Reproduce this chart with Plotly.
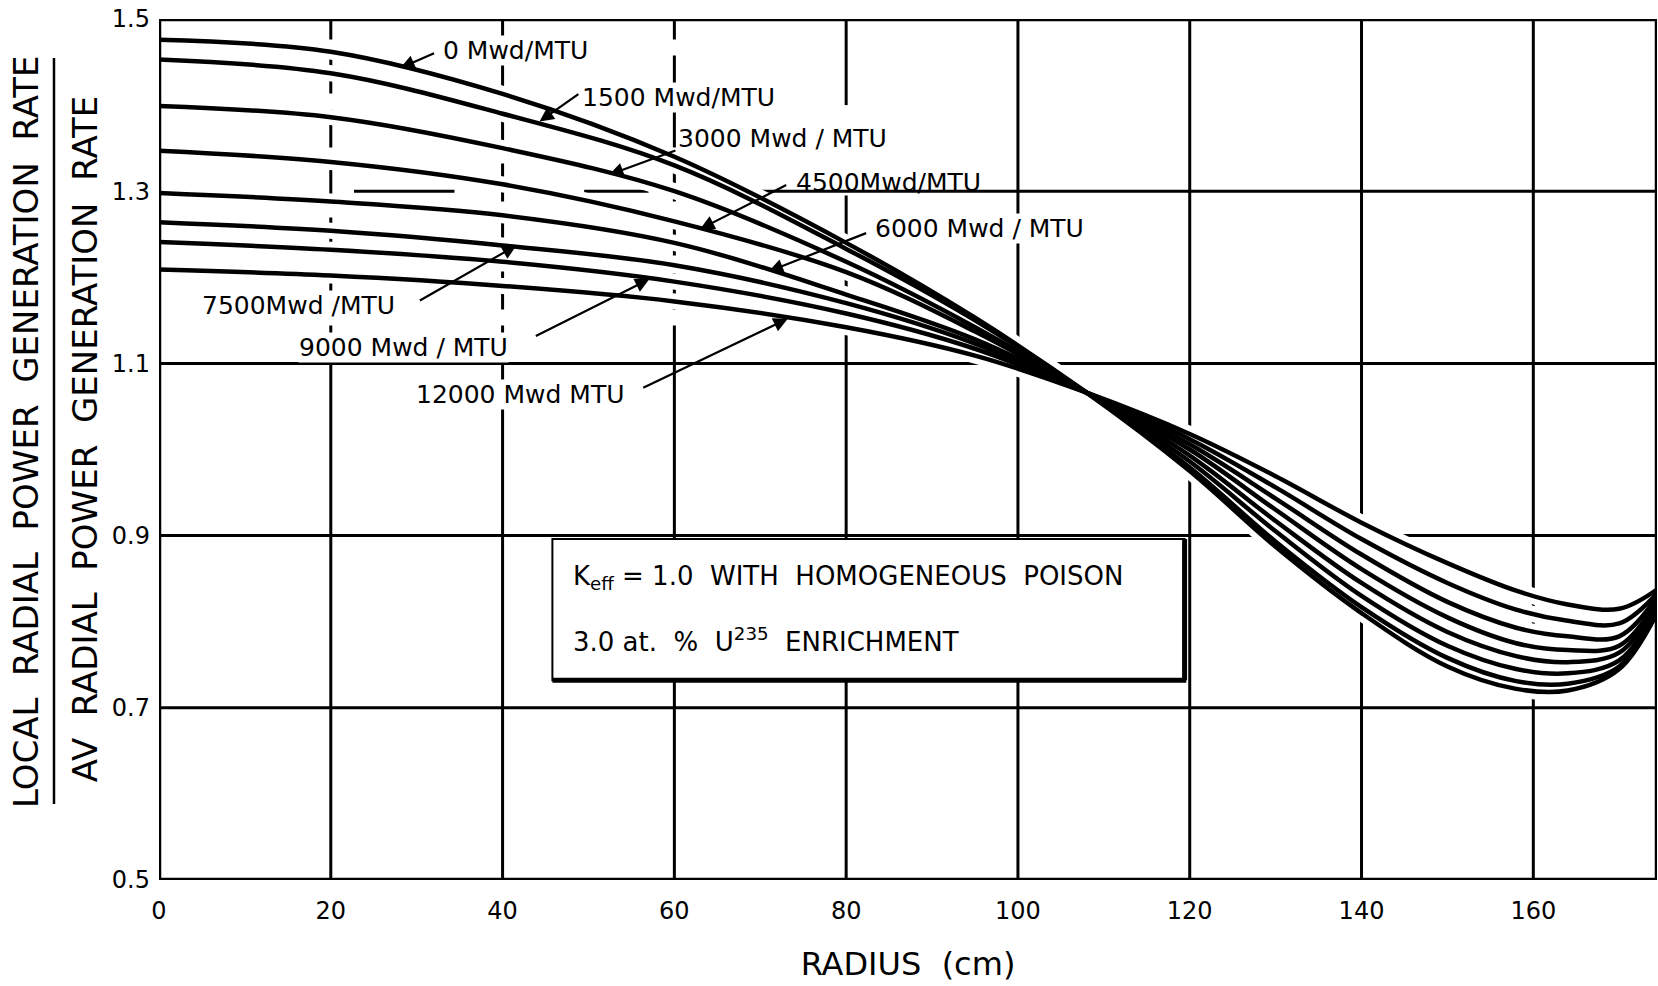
import plotly.graph_objects as go

# ---------------- data ----------------
radius = [0, 20, 40, 60, 80, 95, 108, 120, 130, 140, 150, 158, 164, 170, 174.5]

ratio_0 = [1.476, 1.462, 1.413, 1.340, 1.240, 1.153, 1.066, 0.975, 0.887, 0.810, 0.748, 0.722, 0.720, 0.745, 0.812]
ratio_1500 = [1.453, 1.437, 1.390, 1.330, 1.233, 1.150, 1.066, 0.979, 0.893, 0.817, 0.758, 0.731, 0.728, 0.748, 0.815]
ratio_3000 = [1.399, 1.386, 1.350, 1.300, 1.218, 1.142, 1.066, 0.986, 0.905, 0.830, 0.772, 0.745, 0.740, 0.755, 0.818]
ratio_4500 = [1.347, 1.334, 1.308, 1.265, 1.206, 1.137, 1.066, 0.993, 0.917, 0.845, 0.788, 0.760, 0.753, 0.764, 0.822]
ratio_6000 = [1.298, 1.288, 1.272, 1.240, 1.180, 1.128, 1.066, 1.000, 0.930, 0.861, 0.805, 0.775, 0.767, 0.772, 0.826]
ratio_7500 = [1.264, 1.254, 1.237, 1.214, 1.170, 1.123, 1.066, 1.006, 0.943, 0.878, 0.823, 0.793, 0.783, 0.783, 0.830]
ratio_9000 = [1.241, 1.232, 1.218, 1.195, 1.158, 1.117, 1.066, 1.012, 0.956, 0.896, 0.845, 0.814, 0.801, 0.798, 0.834]
ratio_12000 = [1.209, 1.202, 1.190, 1.172, 1.142, 1.109, 1.066, 1.018, 0.969, 0.915, 0.868, 0.836, 0.820, 0.815, 0.838]

burnup_labels = ["0 Mwd/MTU", "1500 Mwd/MTU", "3000 Mwd / MTU", "4500Mwd/MTU",
                 "6000 Mwd / MTU", "7500Mwd /MTU", "9000 Mwd / MTU", "12000 Mwd MTU"]

x_tick_values = [0, 20, 40, 60, 80, 100, 120, 140, 160]
x_tick_text = ["0", "20", "40", "60", "80", "100", "120", "140", "160"]
y_tick_values = [0.5, 0.7, 0.9, 1.1, 1.3, 1.5]
y_tick_text = ["0.5", "0.7", "0.9", "1.1", "1.3", "1.5"]

series = [ratio_0, ratio_1500, ratio_3000, ratio_4500, ratio_6000, ratio_7500, ratio_9000, ratio_12000]

# ---------------- layout helpers (positions / styles) ----------------
FONT = "DejaVu Sans"
X_MAX = 174.4

# label anchor (left, middle) and arrow start -> tip, data coordinates
label_pos = [(32.9, 1.464), (49.1, 1.409), (60.3, 1.361), (74.1, 1.310),
             (83.2, 1.257), (4.9, 1.167), (16.2, 1.119), (29.8, 1.064)]
arrow_start = [(32.2, 1.461), (49.0, 1.414), (60.3, 1.348), (73.2, 1.308),
               (82.5, 1.252), (30.2, 1.172), (43.7, 1.131), (56.2, 1.071)]
arrow_tip = [(28.1, 1.443), (44.3, 1.381), (52.4, 1.319), (63.0, 1.256),
             (71.0, 1.207), (41.6, 1.237), (57.1, 1.198), (73.2, 1.152)]

fig = go.Figure()

# white halos (break the grid where curves pass, as in the drafted original)
for ys in series:
    fig.add_trace(go.Scatter(x=radius, y=ys, mode="lines",
                             line=dict(color="white", width=16, shape="spline"),
                             hoverinfo="skip", showlegend=False))
for ys, name in zip(series, burnup_labels):
    fig.add_trace(go.Scatter(x=radius, y=ys, mode="lines", name=name,
                             line=dict(color="black", width=4.5, shape="spline"),
                             showlegend=False))

shapes = []
GRID = dict(color="black", width=3)
# vertical grid lines
for v in x_tick_values[1:]:
    if v in (20, 40, 60):
        shapes.append(dict(type="line", xref="x", yref="y", x0=v, x1=v, y0=0.5, y1=1.1,
                           line=GRID, layer="below"))
        shapes.append(dict(type="line", xref="x", yref="y", x0=v, x1=v, y0=1.1, y1=1.5,
                           line=dict(color="black", width=3, dash="38px,16px"), layer="below"))
    elif v == 80:
        shapes.append(dict(type="line", xref="x", yref="y", x0=v, x1=v, y0=0.5, y1=1.295,
                           line=GRID, layer="below"))
        shapes.append(dict(type="line", xref="x", yref="y", x0=v, x1=v, y0=1.40, y1=1.5,
                           line=GRID, layer="below"))
    else:
        shapes.append(dict(type="line", xref="x", yref="y", x0=v, x1=v, y0=0.5, y1=1.5,
                           line=GRID, layer="below"))
# horizontal grid lines
for h in (0.7, 0.9, 1.1):
    shapes.append(dict(type="line", xref="x", yref="y", x0=0, x1=X_MAX, y0=h, y1=h,
                       line=GRID, layer="below"))
for a, b in ((22.7, 34.4), (49.5, 57.0), (70.0, X_MAX)):
    shapes.append(dict(type="line", xref="x", yref="y", x0=a, x1=b, y0=1.3, y1=1.3,
                       line=GRID, layer="below"))

# note box
BX0, BX1, BY0, BY1 = 45.8, 119.4, 0.732, 0.896
shapes.append(dict(type="rect", xref="x", yref="y", x0=BX0, x1=BX1, y0=BY0, y1=BY1,
                   line=dict(color="black", width=2), fillcolor="white", layer="below"))
shapes.append(dict(type="line", xref="x", yref="y", x0=BX0, x1=BX1 + 0.2, y0=BY0, y1=BY0,
                   line=dict(color="black", width=5), layer="below"))
shapes.append(dict(type="line", xref="x", yref="y", x0=BX1, x1=BX1, y0=BY0, y1=BY1,
                   line=dict(color="black", width=5), layer="below"))

# plot frame
shapes.append(dict(type="rect", xref="x", yref="y", x0=0, x1=X_MAX, y0=0.5, y1=1.5,
                   line=dict(color="black", width=4.5), layer="above"))

# fraction bar of the y-axis title
shapes.append(dict(type="line", xref="paper", yref="paper", x0=-0.0701, x1=-0.0701,
                   y0=0.0883, y1=0.9547, line=dict(color="black", width=2.5)))

annotations = []
for i, txt in enumerate(burnup_labels):
    lx, ly = label_pos[i]
    annotations.append(dict(x=lx, y=ly, xref="x", yref="y", text=txt, showarrow=False,
                            xanchor="left", yanchor="middle",
                            font=dict(family=FONT, size=25, color="black"),
                            bgcolor=None if i == 3 else "white", borderpad=0))
    sx, sy = arrow_start[i]
    tx, ty = arrow_tip[i]
    annotations.append(dict(x=tx, y=ty, ax=sx, ay=sy, xref="x", yref="y",
                            axref="x", ayref="y", text="", showarrow=True,
                            arrowhead=2, arrowsize=1.3, arrowwidth=2.2,
                            arrowcolor="black", standoff=0))

annotations.append(dict(x=48.0, y=0.851, xref="x", yref="y", showarrow=False,
                        xanchor="left", yanchor="middle",
                        text="K<sub>eff</sub> = 1.0 &nbsp;WITH &nbsp;HOMOGENEOUS &nbsp;POISON",
                        font=dict(family=FONT, size=26, color="black")))
annotations.append(dict(x=48.0, y=0.779, xref="x", yref="y", showarrow=False,
                        xanchor="left", yanchor="middle",
                        text="3.0 at. &nbsp;% &nbsp;U<sup>235</sup> &nbsp;ENRICHMENT",
                        font=dict(family=FONT, size=26, color="black")))

# y-axis title written as a fraction
annotations.append(dict(x=-0.0888, y=0.5215, xref="paper", yref="paper", showarrow=False,
                        text="LOCAL  RADIAL  POWER  GENERATION  RATE", textangle=-90,
                        xanchor="center", yanchor="middle",
                        font=dict(family=FONT, size=34, color="black")))
annotations.append(dict(x=-0.0494, y=0.512, xref="paper", yref="paper", showarrow=False,
                        text="AV  RADIAL  POWER  GENERATION  RATE", textangle=-90,
                        xanchor="center", yanchor="middle",
                        font=dict(family=FONT, size=34, color="black")))

fig.update_layout(
    width=1658, height=986,
    margin=dict(l=159, r=1, t=19, b=106),
    paper_bgcolor="white", plot_bgcolor="white",
    shapes=shapes, annotations=annotations,
    font=dict(family=FONT, color="black"),
    xaxis=dict(range=[0, X_MAX], showgrid=False, zeroline=False, showline=False,
               tickvals=x_tick_values, ticktext=x_tick_text, ticks="",
               ticklabelstandoff=14,
               tickfont=dict(family=FONT, size=24, color="black"),
               title=dict(text="RADIUS  (cm)", standoff=28,
                          font=dict(family=FONT, size=32, color="black"))),
    yaxis=dict(range=[0.5, 1.5], showgrid=False, zeroline=False, showline=False,
               tickvals=y_tick_values, ticktext=y_tick_text, ticks="",
               ticklabelstandoff=8,
               tickfont=dict(family=FONT, size=24, color="black")),
)

fig.write_html("out.html")
